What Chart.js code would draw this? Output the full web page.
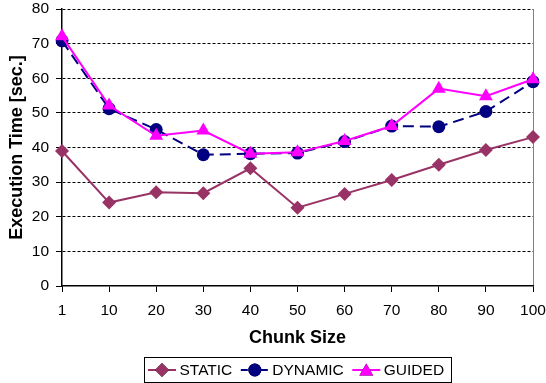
<!DOCTYPE html>
<html>
<head>
<meta charset="utf-8">
<script src="https://cdn.jsdelivr.net/npm/chart.js@4/dist/chart.umd.min.js"></script>
<style>
  html, body { margin: 0; padding: 0; background: #ffffff; }
  #wrap { width: 546px; height: 383px; }
</style>
</head>
<body>
<div id="wrap"><canvas id="c" width="546" height="383"></canvas></div>
<script>
// Execution time per scheduling policy, by chunk size
const chunkSizes   = ['1', '10', '20', '30', '40', '50', '60', '70', '80', '90', '100'];
const staticTimes  = [39.0, 24.1, 27.1, 26.8, 34.0, 22.6, 26.6, 30.6, 35.0, 39.3, 43.0];
const dynamicTimes = [70.8, 51.2, 45.2, 37.9, 38.2, 38.4, 41.7, 46.2, 46.0, 50.4, 59.0];
const guidedTimes  = [72.1, 52.1, 43.4, 44.9, 38.2, 38.6, 41.9, 46.2, 57.0, 54.8, 59.7];
const yTicks       = [0, 10, 20, 30, 40, 50, 60, 70, 80];

const FONT = '"Liberation Sans", Arial, sans-serif';

// Legend boxed below the x axis title: line sample with marker, then label
const boxedLegend = {
  id: 'boxedLegend',
  afterDraw(chart) {
    const ctx = chart.ctx;
    const area = chart.chartArea;
    const lineLen = 28, gapLine = 3.5, gapItem = 8.5, padL = 3.5, padR = 7.5;
    ctx.save();
    ctx.font = '15.5px ' + FONT;
    const items = chart.data.datasets.map(ds => ({ds, w: ctx.measureText(ds.label).width}));
    let total = padL + padR;
    items.forEach((it, i) => { total += lineLen + gapLine + it.w + (i < items.length - 1 ? gapItem : 0); });
    const cx = (area.left + area.right) / 2;
    const left = Math.round(cx - total / 2) + 0.5;
    const top = 357.5, h = 25;
    ctx.strokeStyle = '#000';
    ctx.lineWidth = 1;
    ctx.strokeRect(left, top, Math.round(total), h);
    let x = left + padL;
    const cy = top + h / 2;
    items.forEach((it, i) => {
      const ds = it.ds;
      ctx.beginPath();
      ctx.setLineDash(ds.borderDash && ds.borderDash.length ? [7, 3] : []);
      ctx.strokeStyle = ds.borderColor;
      ctx.lineWidth = ds.borderWidth;
      ctx.moveTo(x, cy);
      ctx.lineTo(x + lineLen, cy);
      ctx.stroke();
      ctx.setLineDash([]);
      Chart.helpers.drawPoint(ctx, {
        pointStyle: ds.pointStyle,
        radius: ds.pointRadius,
        borderWidth: 0
      }, x + lineLen / 2, cy + (ds.pointStyle === 'triangle' ? 1.5 : 0));
      ctx.fillStyle = ds.pointBackgroundColor;
      ctx.fill();
      x += lineLen + gapLine;
      ctx.fillStyle = '#000';
      ctx.textAlign = 'left';
      ctx.textBaseline = 'middle';
      ctx.fillText(ds.label, x, cy + 1);
      x += it.w + gapItem;
    });
    ctx.restore();
  }
};

const ctx = document.getElementById('c').getContext('2d');
new Chart(ctx, {
  type: 'line',
  data: {
    labels: chunkSizes,
    datasets: [
      {
        label: 'STATIC',
        data: staticTimes,
        borderColor: '#993366',
        backgroundColor: '#993366',
        pointBackgroundColor: '#993366',
        pointBorderColor: '#993366',
        borderWidth: 2,
        pointStyle: 'rectRot',
        pointRadius: 7,
        pointBorderWidth: 0,
        tension: 0,
        order: 2
      },
      {
        label: 'DYNAMIC',
        data: dynamicTimes,
        borderColor: '#000080',
        backgroundColor: '#000080',
        pointBackgroundColor: '#000080',
        pointBorderColor: '#000080',
        borderWidth: 2,
        borderDash: [11, 6],
        pointStyle: 'circle',
        pointRadius: 6.5,
        pointBorderWidth: 0,
        tension: 0,
        order: 1
      },
      {
        label: 'GUIDED',
        data: guidedTimes,
        borderColor: '#ff00ff',
        backgroundColor: '#ff00ff',
        pointBackgroundColor: '#ff00ff',
        pointBorderColor: '#ff00ff',
        borderWidth: 2,
        pointStyle: 'triangle',
        pointRadius: 8,
        pointBorderWidth: 0,
        tension: 0,
        order: 0
      }
    ]
  },
  options: {
    responsive: false,
    animation: false,
    devicePixelRatio: 1,
    layout: { padding: { left: 0, top: 9, right: 13, bottom: 34 } },
    plugins: {
      legend: { display: false },
      tooltip: { enabled: false },
      title: { display: false }
    },
    scales: {
      x: {
        type: 'category',
        offset: false,
        afterFit(scale) {
          scale.height = 63;
          scale.paddingLeft = 0;
          scale.paddingRight = 0;
        },
        border: { display: true, color: '#000', width: 1.5 },
        grid: {
          display: true,
          drawOnChartArea: true,
          drawTicks: true,
          tickLength: 6,
          tickColor: '#000',
          tickWidth: 1,
          color: (c) => (c.index === chunkSizes.length - 1 ? '#808080' : 'rgba(0,0,0,0)'),
          lineWidth: 1
        },
        ticks: {
          color: '#000',
          font: { family: FONT, size: 15.5 },
          padding: 9,
          maxRotation: 0,
          autoSkip: false
        },
        title: {
          display: true,
          text: 'Chunk Size',
          color: '#000',
          font: { family: FONT, size: 18, weight: 'bold' },
          padding: { top: 0, bottom: 0 }
        }
      },
      y: {
        min: 0,
        max: 80,
        afterFit(scale) {
          scale.width = 62;
          scale.paddingTop = 0;
          scale.paddingBottom = 0;
        },
        afterBuildTicks(scale) { scale.ticks = yTicks.map(v => ({ value: v })); },
        border: { display: true, color: '#000', width: 1.5, dash: [3, 2] },
        grid: {
          display: true,
          drawTicks: true,
          tickLength: 6,
          tickColor: '#000',
          tickWidth: 1,
          tickBorderDash: [],
          color: (c) => (c.index === 0 ? 'rgba(0,0,0,0)' : '#000'),
          lineWidth: 1
        },
        ticks: {
          color: '#000',
          font: { family: FONT, size: 15.5 },
          padding: 7
        },
        title: {
          display: true,
          text: 'Execution Time [sec.]',
          color: '#000',
          font: { family: FONT, size: 18, weight: 'bold' },
          padding: { top: 6, bottom: 0 }
        }
      }
    }
  },
  plugins: [boxedLegend]
});
</script>
</body>
</html>
